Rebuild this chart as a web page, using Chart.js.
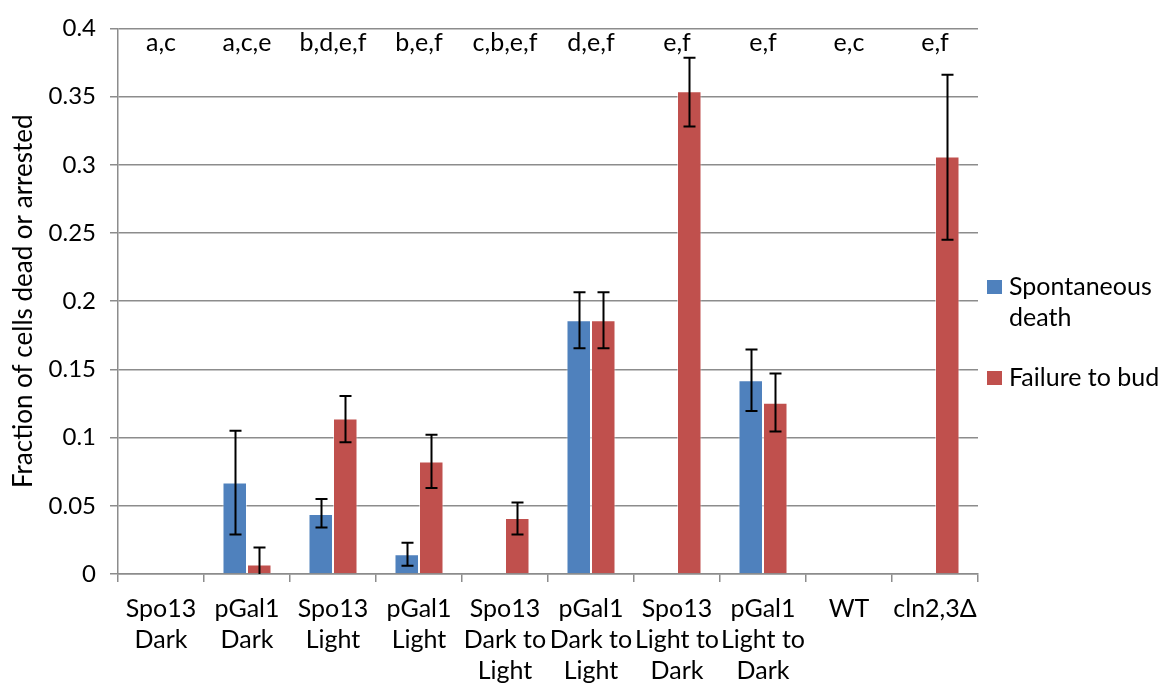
<!DOCTYPE html>
<html>
<head>
<meta charset="utf-8">
<script src="https://cdn.jsdelivr.net/npm/chart.js@4"></script>
<style>
  html, body { margin: 0; padding: 0; background: #fff; }
  #wrap { width: 1165px; height: 688px; position: relative; }
</style>
</head>
<body>
<div id="wrap"><canvas id="c" width="1165" height="688"></canvas></div>
<script>
// Strain / illumination conditions (multi-line axis labels)
const categories = [
  ["Spo13", "Dark"], ["pGal1", "Dark"], ["Spo13", "Light"], ["pGal1", "Light"],
  ["Spo13", "Dark to", "Light"], ["pGal1", "Dark to", "Light"],
  ["Spo13", "Light to", "Dark"], ["pGal1", "Light to", "Dark"],
  ["WT"], ["cln2,3\u0394"]
];

// Significance groups printed above each condition
const groupLetters = ["a,c", "a,c,e", "b,d,e,f", "b,e,f", "c,b,e,f", "d,e,f", "e,f", "e,f", "e,c", "e,f"];

// Fraction of cells that died spontaneously
const deathValues = [0, 0.067, 0.044, 0.0145, 0, 0.186, 0, 0.142, 0, 0];
const deathErrLow  = [null, 0.029, 0.034, 0.006, null, 0.1655, null, 0.1195, null, null];
const deathErrHigh = [null, 0.105, 0.055, 0.023, null, 0.2065, null, 0.1645, null, null];

// Fraction of cells that failed to bud (arrested)
const budValues = [0, 0.007, 0.114, 0.0825, 0.041, 0.186, 0.354, 0.1255, 0, 0.306];
const budErrLow  = [null, 0, 0.0965, 0.063, 0.029, 0.1655, 0.328, 0.1045, null, 0.245];
const budErrHigh = [null, 0.0195, 0.1305, 0.102, 0.0525, 0.2065, 0.3785, 0.147, null, 0.366];

// y axis tick values
const yTicks = [0, 0.05, 0.1, 0.15, 0.2, 0.25, 0.3, 0.35, 0.4];

const seriesNames = [["Spontaneous", "death"], ["Failure to bud"]];
const BLUE = "#4F81BD";
const RED = "#C0504D";
const GRID = "#8c8c8c";
const FONT = "Lato";
const FS = 25;

const errorBars = {
  id: "errorBars",
  afterDatasetsDraw(chart) {
    const ctx = chart.ctx;
    const y = chart.scales.y;
    const sets = [[deathErrLow, deathErrHigh], [budErrLow, budErrHigh]];
    ctx.save();
    ctx.strokeStyle = "#000";
    ctx.lineWidth = 2;
    sets.forEach((pair, di) => {
      const meta = chart.getDatasetMeta(di);
      meta.data.forEach((bar, i) => {
        const lo = pair[0][i], hi = pair[1][i];
        if (lo === null || hi === null) return;
        const x = Math.round(bar.x) + 0.5;
        const yl = y.getPixelForValue(lo), yh = y.getPixelForValue(hi);
        ctx.beginPath();
        ctx.moveTo(x, yl); ctx.lineTo(x, yh);
        ctx.moveTo(x - 6, yh); ctx.lineTo(x + 6, yh);
        if (lo > 0) { ctx.moveTo(x - 6, yl); ctx.lineTo(x + 6, yl); }
        ctx.stroke();
      });
    });
    ctx.restore();
  }
};

const topLetters = {
  id: "topLetters",
  afterDatasetsDraw(chart) {
    const ctx = chart.ctx;
    const x = chart.scales.x;
    const area = chart.chartArea;
    ctx.save();
    ctx.fillStyle = "#000";
    ctx.font = FS + "px " + FONT;
    ctx.textAlign = "center";
    ctx.textBaseline = "middle";
    groupLetters.forEach((t, i) => {
      ctx.fillText(t, x.getPixelForValue(i), area.top + 15);
    });
    ctx.restore();
  }
};

const sideLegend = {
  id: "sideLegend",
  afterDraw(chart) {
    const ctx = chart.ctx;
    const area = chart.chartArea;
    const colors = [BLUE, RED];
    const rows = [287, 378];
    ctx.save();
    ctx.font = FS + "px " + FONT;
    ctx.textBaseline = "middle";
    ctx.textAlign = "left";
    seriesNames.forEach((lines, k) => {
      const cy = rows[k];
      ctx.fillStyle = colors[k];
      ctx.fillRect(area.right + 9, cy - 7, 15, 14);
      ctx.fillStyle = "#000";
      lines.forEach((ln, j) => ctx.fillText(ln, area.right + 31, cy + j * 31));
    });
    ctx.restore();
  }
};

new Chart(document.getElementById("c"), {
  type: "bar",
  data: {
    labels: categories,
    datasets: [
      { label: "Spontaneous death", data: deathValues, backgroundColor: BLUE,
        borderColor: "rgba(255,255,255,0.55)", borderWidth: 1, borderSkipped: "bottom" },
      { label: "Failure to bud", data: budValues, backgroundColor: RED,
        borderColor: "rgba(255,255,255,0.55)", borderWidth: 1, borderSkipped: "bottom" }
    ]
  },
  options: {
    responsive: false,
    animation: false,
    devicePixelRatio: 1,
    layout: { padding: { top: 17, right: 187, left: 0, bottom: 0 } },
    datasets: { bar: { categoryPercentage: 0.57, barPercentage: 1.0 } },
    plugins: {
      legend: { display: false },
      tooltip: { enabled: false },
      title: { display: false }
    },
    scales: {
      x: {
        grid: { offset: true, drawOnChartArea: false, color: GRID, tickLength: 8, lineWidth: 1.5 },
        border: { display: true, color: GRID, width: 1.5 },
        ticks: {
          autoSkip: false, maxRotation: 0, minRotation: 0, color: "#000", padding: 11,
          font: { family: FONT, size: FS, lineHeight: 1.24 }
        },
        afterFit(s) { s.height = 114; }
      },
      y: {
        min: 0, max: 0.4,
        afterBuildTicks(s) { s.ticks = yTicks.map(v => ({ value: v })); },
        grid: { color: GRID, tickLength: 8, lineWidth: 1.5 },
        border: { display: true, color: GRID, width: 1.5 },
        ticks: {
          color: "#000", padding: 14,
          font: { family: FONT, size: 24 },
          callback: v => String(+v.toFixed(2))
        },
        title: {
          display: true, text: "Fraction of cells dead or arrested", color: "#000",
          font: { family: FONT, size: 26 }, padding: { top: 8, bottom: 0 }
        },
        afterFit(s) { s.width = 118; }
      }
    }
  },
  plugins: [errorBars, topLetters, sideLegend]
});
</script>
</body>
</html>
